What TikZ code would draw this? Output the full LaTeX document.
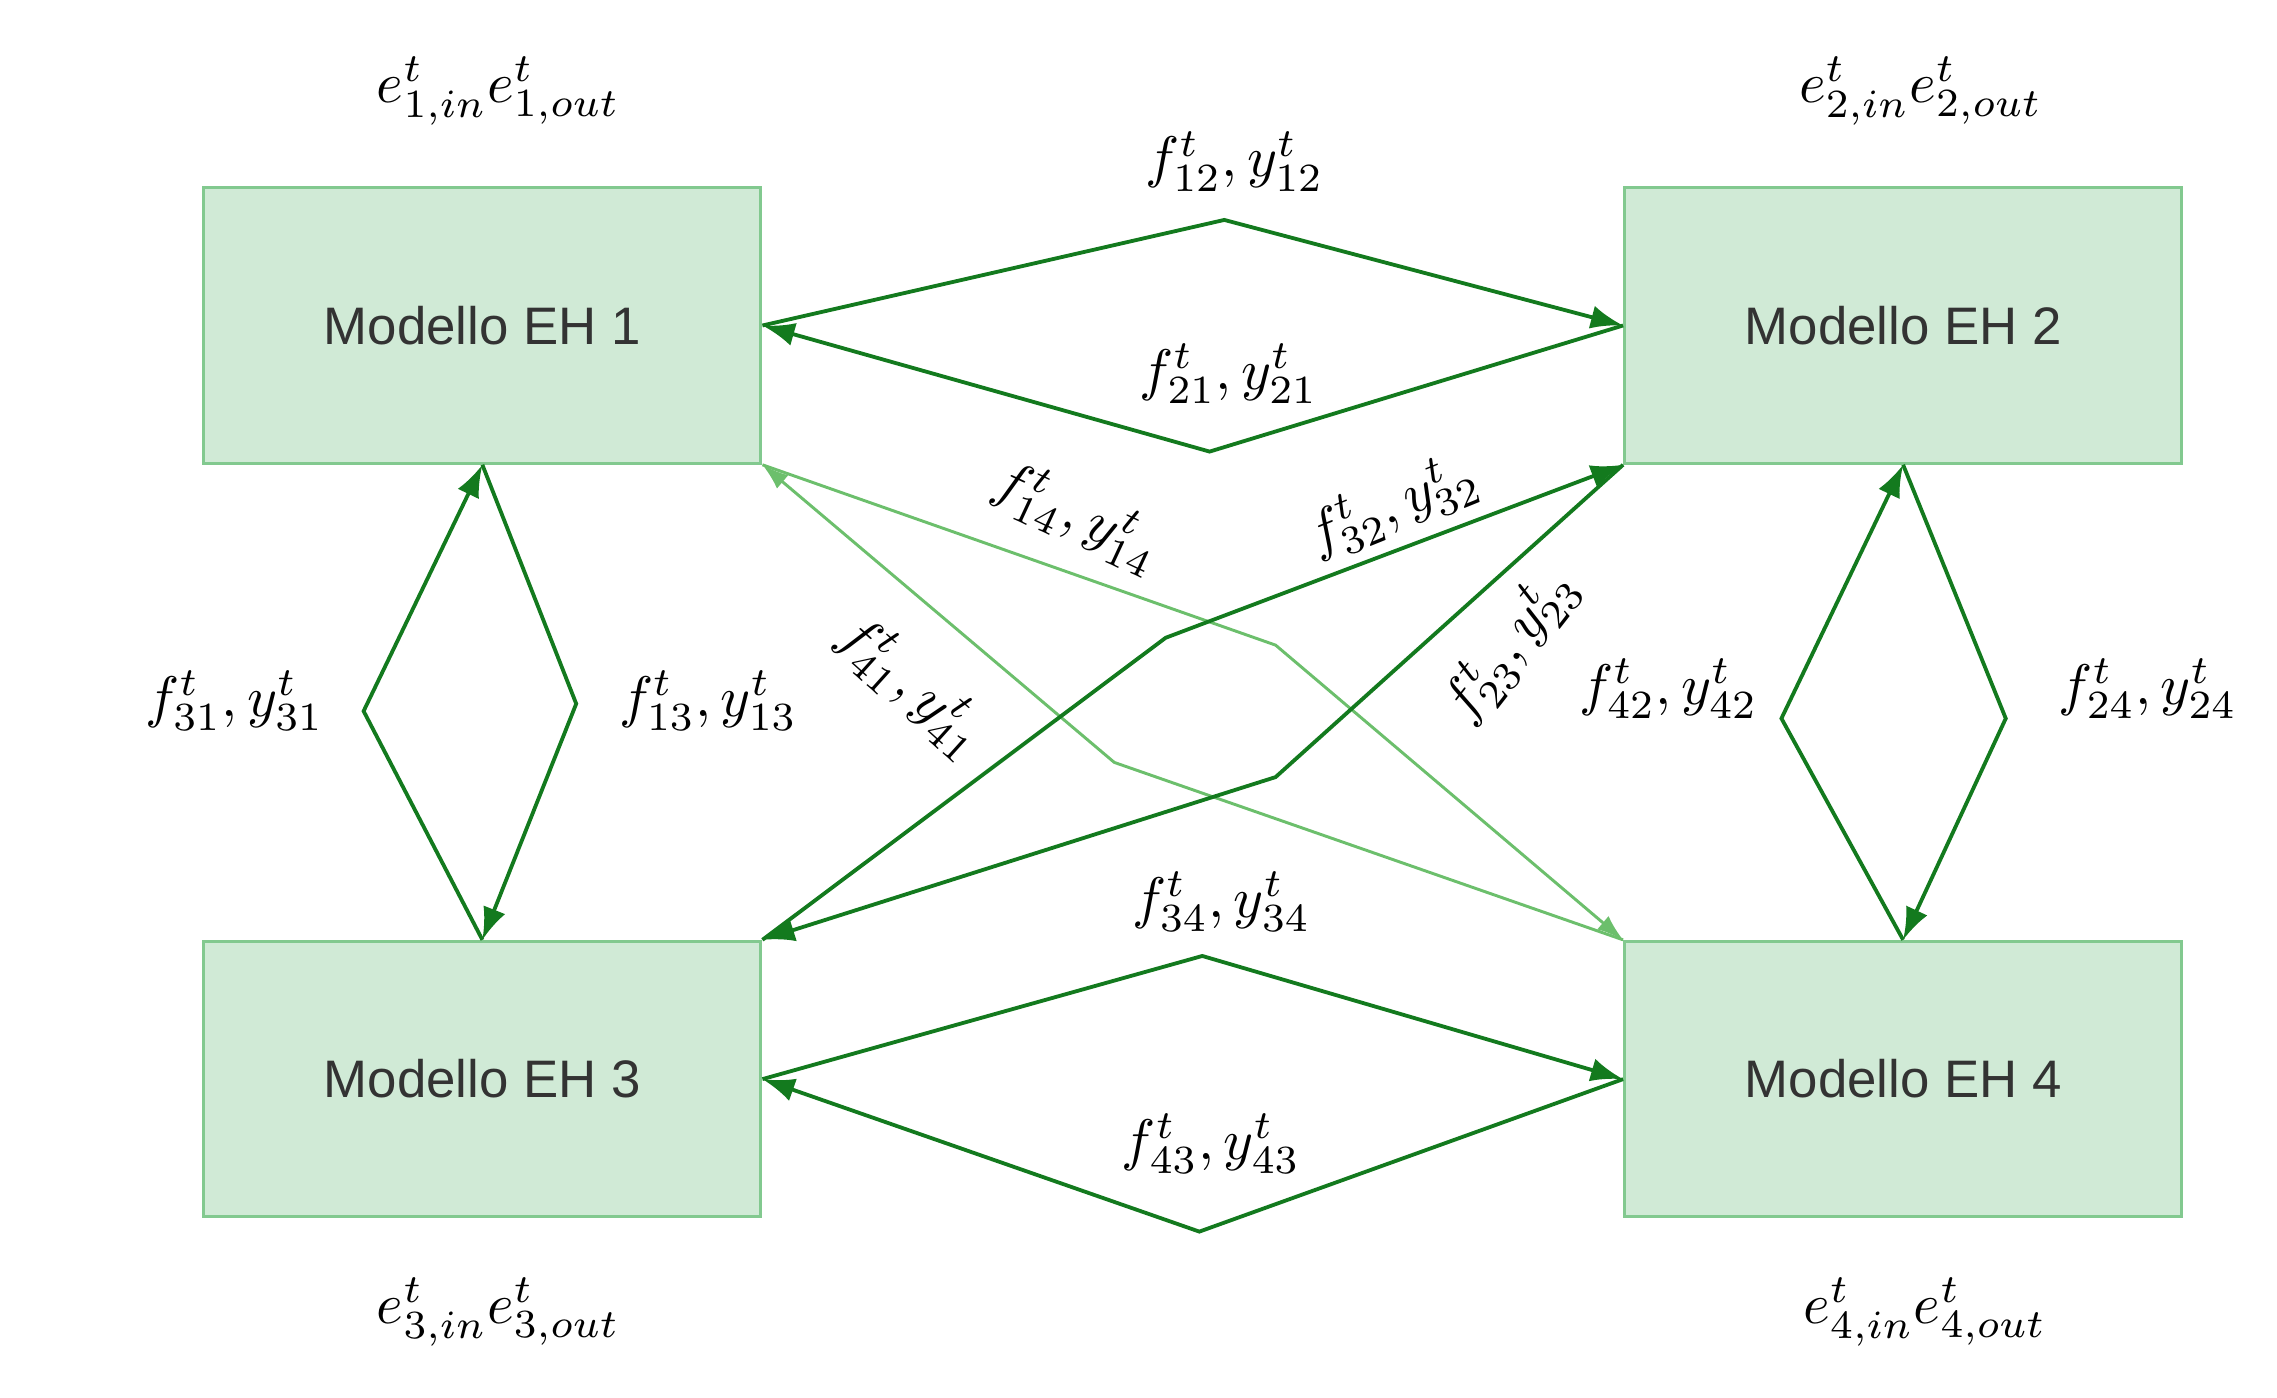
\documentclass[tikz,border=0pt]{standalone}
\usepackage{fontspec}
\usetikzlibrary{arrows.meta}
\newfontfamily\boxfont{Liberation Sans}
\begin{document}
\begin{tikzpicture}[x=1pt,y=-1pt,
  box/.style={draw=boxline,fill=boxfill,line width=2pt,minimum width=380pt,minimum height=188pt,inner sep=0pt,font=\boxfont\fontsize{36}{40}\selectfont,text=black!80},
  dk/.style={draw=dkgreen,line width=2.6pt,-{Latex[length=22pt,width=16pt]}},
  lt/.style={draw=ltgreen,line width=2pt,-{Latex[length=18pt,width=12pt]}},
  lab/.style={inner sep=0pt,transform shape,scale=3.9}]
\definecolor{boxfill}{HTML}{D0EAD6}
\definecolor{boxline}{HTML}{82C98F}
\definecolor{dkgreen}{HTML}{137A1E}
\definecolor{ltgreen}{HTML}{6CBF6C}
\useasboundingbox (0,0) rectangle (1553,953);
\node[box] (b1) at (329,222) {Modello EH 1};
\node[box] (b2) at (1298,222) {Modello EH 2};
\node[box] (b3) at (329,736) {Modello EH 3};
\node[box] (b4) at (1298,736) {Modello EH 4};
% 1-2
\draw[dk] (b1.east) -- (835,150) -- (b2.west);
\draw[dk] (b2.west) -- (825,308) -- (b1.east);
% 3-4
\draw[dk] (b3.east) -- (820,652) -- (b4.west);
\draw[dk] (b4.west) -- (818,840) -- (b3.east);
% 1-3
\draw[dk] (b3.north) -- (248,485) -- (b1.south);
\draw[dk] (b1.south) -- (393,480) -- (b3.north);
% 2-4
\draw[dk] (b4.north) -- (1215,490) -- (b2.south);
\draw[dk] (b2.south) -- (1368,490) -- (b4.north);
% diagonals
\draw[lt] (b1.south east) -- (870,440) -- (b4.north west);
\draw[lt] (b4.north west) -- (760,520) -- (b1.south east);
\draw[dk] (b3.north east) -- (795,435) -- (b2.south west);
\draw[dk] (b2.south west) -- (870,530) -- (b3.north east);
% labels
\node[lab] (e1) at (340,62) {$e^t_{1,in}e^t_{1,out}$};
\node[lab] (e2) at (1310,62) {$e^t_{2,in}e^t_{2,out}$};
\node[lab] (e3) at (340,895) {$e^t_{3,in}e^t_{3,out}$};
\node[lab] (e4) at (1313,895) {$e^t_{4,in}e^t_{4,out}$};
\node[lab] (l12) at (842,110) {$f^t_{12},y^t_{12}$};
\node[lab] (l21) at (838,255) {$f^t_{21},y^t_{21}$};
\node[lab,rotate=-25] (l14) at (735,352) {$f^t_{14},y^t_{14}$};
\node[lab,rotate=22] (l32) at (950,345) {$f^t_{32},y^t_{32}$};
\node[lab,rotate=-42] (l41) at (622,468) {$f^t_{41},y^t_{41}$};
\node[lab,rotate=52] (l23) at (1030,440) {$f^t_{23},y^t_{23}$};
\node[lab] (l31) at (160,478) {$f^t_{31},y^t_{31}$};
\node[lab] (l13) at (483,478) {$f^t_{13},y^t_{13}$};
\node[lab] (l42) at (1138,470) {$f^t_{42},y^t_{42}$};
\node[lab] (l24) at (1465,470) {$f^t_{24},y^t_{24}$};
\node[lab] (l34) at (833,615) {$f^t_{34},y^t_{34}$};
\node[lab] (l43) at (826,780) {$f^t_{43},y^t_{43}$};
\end{tikzpicture}
\end{document}
